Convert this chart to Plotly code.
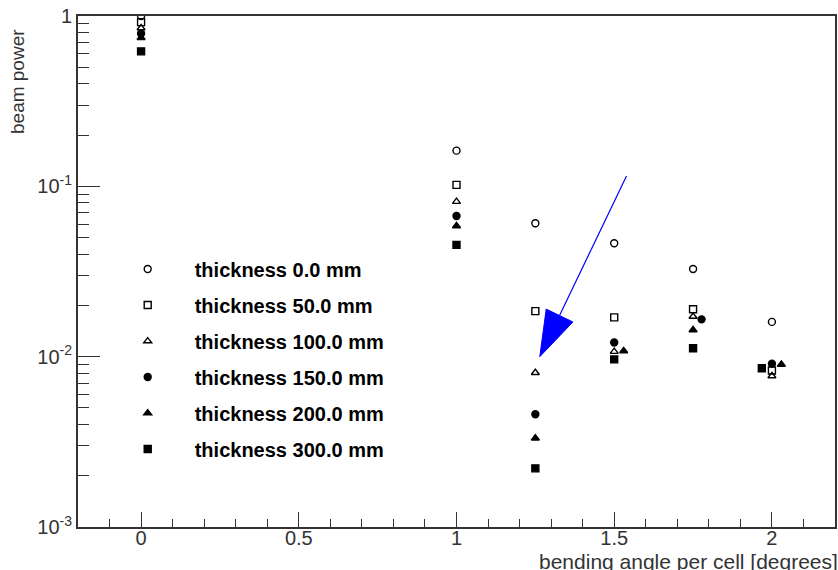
import plotly.graph_objects as go

labels = ["thickness 0.0 mm", "thickness 50.0 mm", "thickness 100.0 mm",
          "thickness 150.0 mm", "thickness 200.0 mm", "thickness 300.0 mm"]
symbols = ["circle-open", "square-open", "triangle-up-open", "circle", "triangle-up", "square"]

x_t0 = [0, 1, 1.25, 1.5, 1.75, 2]
y_t0 = [1.0, 0.162, 0.0607, 0.0463, 0.0327, 0.0160]
x_t50 = [0, 1, 1.25, 1.5, 1.75, 2]
y_t50 = [0.92, 0.102, 0.0185, 0.0170, 0.0190, 0.0083]
x_t100 = [0, 1, 1.25, 1.5, 1.75, 2]
y_t100 = [0.85, 0.0813, 0.00805, 0.0107, 0.0172, 0.0077]
x_t150 = [0, 1, 1.25, 1.5, 1.777, 2]
y_t150 = [0.79, 0.067, 0.00459, 0.0121, 0.01656, 0.0091]
x_t200 = [0, 1, 1.25, 1.53, 1.75, 2.03]
y_t200 = [0.745, 0.0585, 0.00332, 0.0108, 0.01435, 0.0090]
x_t300 = [0, 1, 1.25, 1.5, 1.75, 1.968]
y_t300 = [0.62, 0.0453, 0.00221, 0.00964, 0.0112, 0.00855]

xs = [x_t0, x_t50, x_t100, x_t150, x_t200, x_t300]
ys = [y_t0, y_t50, y_t100, y_t150, y_t200, y_t300]

y_tickvals = [0.001, 0.01, 0.1, 1]
y_ticktext = ["10<sup>-3</sup>", "10<sup>-2</sup>", "10<sup>-1</sup>", "1"]

# arrow: tail -> tip (data coordinates)
arrow_x = [1.539, 1.264]
arrow_y = [0.115, 0.0100]

FONT = "Liberation Sans, Arial, sans-serif"
AX = "#333333"

fig = go.Figure()
for i in range(6):
    fig.add_trace(go.Scatter(
        x=xs[i], y=ys[i], mode="markers", name=labels[i],
        legendgroup="g%d" % i,
        marker=dict(symbol=symbols[i], size=7, color="black",
                    line=dict(color="black", width=1.4)),
    ))

fig.add_trace(go.Scatter(
    x=arrow_x, y=arrow_y, mode="lines+markers", showlegend=False,
    hoverinfo="skip",
    line=dict(color="blue", width=1.2),
    marker=dict(symbol=["circle", "arrow"], size=[0, 48], color="blue",
                opacity=1, angleref="previous",
                line=dict(width=1, color="blue")),
))

fig.add_annotation(
    text="bending angle per cell [degrees]", xref="paper", yref="paper",
    x=1, y=0, xanchor="right", yanchor="top", yshift=-21, xshift=5, showarrow=False,
    font=dict(family=FONT, size=21, color=AX),
)
fig.add_annotation(
    text="beam power", xref="paper", yref="paper", textangle=-90,
    x=0, y=1, xanchor="right", yanchor="top", xshift=-48, yshift=-11, showarrow=False,
    font=dict(family=FONT, size=19, color=AX),
)

fig.update_layout(
    width=838, height=570,
    margin=dict(l=78, r=1, t=16, b=43),
    paper_bgcolor="white", plot_bgcolor="white",
    font=dict(family=FONT, size=20, color=AX),
    showlegend=True,
    legend=dict(
        x=0.03, y=0.543, xanchor="left", yanchor="top",
        bgcolor="rgba(0,0,0,0)",
        font=dict(family=FONT, size=20, color="black", weight="bold"),
        tracegroupgap=7, itemwidth=84,
    ),
    xaxis=dict(
        range=[-0.2, 2.2], showgrid=False, zeroline=False,
        showline=True, linecolor=AX, linewidth=2, mirror=True,
        ticks="inside", ticklen=15, tickcolor=AX, tickwidth=1,
        dtick=0.5, tick0=0, ticklabelstandoff=-8,
        minor=dict(ticks="inside", ticklen=8, dtick=0.1, tickcolor=AX),
        tickfont=dict(family=FONT, size=20, color=AX),
    ),
    yaxis=dict(
        type="log", range=[-3, 0], showgrid=False, zeroline=False,
        showline=True, linecolor=AX, linewidth=2, mirror=True,
        ticks="inside", ticklen=22, tickcolor=AX, tickwidth=1,
        tickvals=y_tickvals, ticktext=y_ticktext,
        minor=dict(ticks="inside", ticklen=11, dtick="D1", tickcolor=AX),
        tickfont=dict(family=FONT, size=20, color=AX),
    ),
)

fig.write_html("out.html")
